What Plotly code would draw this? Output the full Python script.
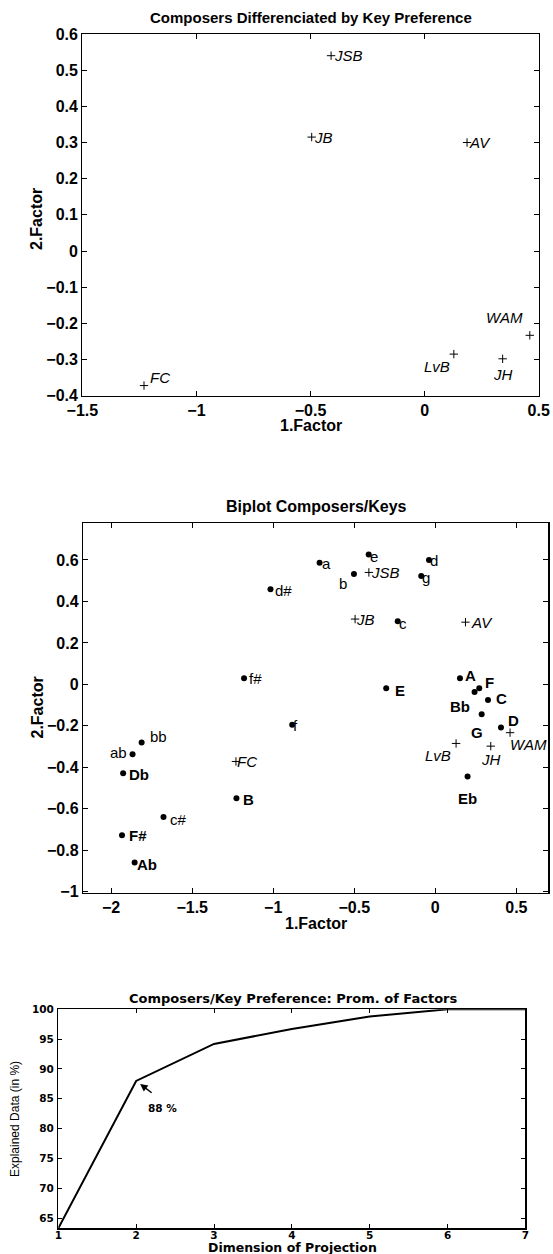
import plotly.graph_objects as go

# ---------------- data ----------------
# Composers (factor 1 / factor 2)
composers = ["JSB", "JB", "AV", "WAM", "LvB", "JH", "FC"]
comp_f1 = [-0.41, -0.495, 0.186, 0.461, 0.128, 0.342, -1.23]
comp_f2 = [0.54, 0.315, 0.30, -0.233, -0.285, -0.298, -0.372]

# Keys (biplot)
keys = ["a", "e", "d", "g", "c", "b", "d#", "f#", "f", "bb", "ab", "c#",
        "A", "F", "Bb", "C", "G", "D", "E", "B", "Db", "Eb", "F#", "Ab"]
key_f1 = [-0.714, -0.411, -0.039, -0.087, -0.232, -0.502, -1.017, -1.180, -0.883, -1.812, -1.868, -1.677,
          0.152, 0.271, 0.242, 0.325, 0.286, 0.405, -0.303, -1.227, -1.926, 0.199, -1.933, -1.855]
key_f2 = [0.587, 0.627, 0.600, 0.523, 0.304, 0.533, 0.459, 0.029, -0.195, -0.280, -0.337, -0.640,
          0.030, -0.019, -0.037, -0.076, -0.144, -0.208, -0.019, -0.549, -0.429, -0.445, -0.728, -0.859]

# Prominence of factors
dims = [1, 2, 3, 4, 5, 6, 7]
explained = [63.3, 88.0, 94.2, 96.7, 98.8, 100.0, 100.0]

# ---------------- label placement styles (anchor, dx px, dy px downward) ----------------
top_lab = {"JSB": ("left", 3, 0), "JB": ("left", 2, 0), "AV": ("left", 2, 0),
           "WAM": ("right", -7, -18), "LvB": ("right", -3.5, 12), "JH": ("center", 0, 16),
           "FC": ("left", 6, -8)}
bi_comp_lab = {"JSB": ("left", 2, 0), "JB": ("left", 1, 0), "AV": ("left", 6, 0),
               "WAM": ("left", 0, 12), "LvB": ("right", -5.5, 12), "JH": ("center", 0, 13),
               "FC": ("left", 1, 0)}
key_lab = {"a": ("left", 2, 1), "e": ("left", 1, 2), "d": ("left", 1, 1), "g": ("left", 1, 2),
           "c": ("left", 1, 2), "b": ("right", -7, 10), "d#": ("left", 5, 1.5), "f#": ("left", 5, 0),
           "f": ("left", 1, 1), "bb": ("left", 8, -6), "ab": ("right", -6, -2), "c#": ("left", 6, 2),
           "A": ("left", 5, -3), "F": ("left", 6, -6), "Bb": ("right", -5, 14), "C": ("left", 8, -2),
           "G": ("center", -5, 18), "D": ("left", 7, -7), "E": ("left", 9, 2), "B": ("left", 7, 1),
           "Db": ("left", 6, 1), "Eb": ("center", 0, 22), "F#": ("left", 7, 0), "Ab": ("left", 2, 2)}

W, H = 553, 1254


def xd(a, b):
    return [a / W, b / W]


def yd(top, bottom):
    return [1 - bottom / H, 1 - top / H]


fig = go.Figure()

cross = dict(symbol="cross-thin", size=6, color="black", line=dict(color="black", width=1))

fig.add_trace(go.Scatter(x=comp_f1, y=comp_f2, mode="markers", marker=cross,
                         xaxis="x", yaxis="y", showlegend=False, hoverinfo="skip"))
fig.add_trace(go.Scatter(x=key_f1, y=key_f2, mode="markers",
                         marker=dict(symbol="circle", size=6, color="black"),
                         xaxis="x2", yaxis="y2", showlegend=False, hoverinfo="skip"))
fig.add_trace(go.Scatter(x=comp_f1, y=comp_f2, mode="markers", marker=cross,
                         xaxis="x2", yaxis="y2", showlegend=False, hoverinfo="skip"))
fig.add_trace(go.Scatter(x=dims, y=explained, mode="lines", line=dict(color="black", width=2),
                         xaxis="x3", yaxis="y3", showlegend=False, hoverinfo="skip"))

tickf = dict(family="Liberation Sans, Arial, sans-serif", size=16, color="black", weight="bold")
tickf3 = dict(family="DejaVu Sans, sans-serif", size=10.5, color="black", weight="bold")
base = dict(showline=True, linecolor="black", linewidth=1.3, mirror="ticks", ticks="inside",
            ticklen=5, tickwidth=1, tickcolor="black", showgrid=False, zeroline=False)

fig.update_layout(
    width=W, height=H, margin=dict(l=0, r=0, t=0, b=0),
    paper_bgcolor="white", plot_bgcolor="white", template="none",
    xaxis=dict(base, domain=xd(82.4, 538.7), range=[-1.5, 0.5], dtick=0.5, tick0=0,
               tickfont=tickf, anchor="y", ticklabelstandoff=0),
    yaxis=dict(base, domain=yd(34, 395.7), range=[-0.4, 0.6], dtick=0.1, tick0=0,
               tickfont=tickf, anchor="x", ticklabelstandoff=0),
    xaxis2=dict(base, domain=xd(83.1, 548.3), range=[-2.173, 0.697], dtick=0.5, tick0=0,
                tickfont=tickf, anchor="y2", ticklabelstandoff=0),
    yaxis2=dict(base, domain=yd(523.3, 892.7), range=[-1.005, 0.777], dtick=0.2, tick0=0,
                tickfont=tickf, anchor="x2", ticklabelstandoff=0),
    xaxis3=dict(base, domain=xd(58.3, 525.4), range=[1, 7], dtick=1, tick0=0, ticklen=4,
                tickfont=tickf3, anchor="y3", ticklabelstandoff=-3),
    yaxis3=dict(base, domain=yd(1009.3, 1228.3), range=[explained[0], 100], dtick=5, tick0=0,
                ticklen=4, tickfont=tickf3, anchor="x3", ticklabelstandoff=1),
)

ann = []
lab_f = dict(family="Liberation Sans, Arial, sans-serif", size=15, color="black")


def add_label(text, x, y, xr, yr, spec, font):
    anchor, dx, dy = spec
    ann.append(dict(text=text, x=x, y=y, xref=xr, yref=yr, showarrow=False,
                    xanchor=anchor, yanchor="middle", xshift=dx, yshift=-dy,
                    borderpad=0, borderwidth=0, font=font))


comp_font = dict(lab_f, style="italic")
for n, x, y in zip(composers, comp_f1, comp_f2):
    add_label(n, x, y, "x", "y", top_lab[n], comp_font)
    add_label(n, x, y, "x2", "y2", bi_comp_lab[n], comp_font)
for k, x, y in zip(keys, key_f1, key_f2):
    f = dict(lab_f, weight="bold") if k[0].isupper() else lab_f
    add_label(k, x, y, "x2", "y2", key_lab[k], f)

title_f = dict(family="Liberation Sans, Arial, sans-serif", size=15, color="black", weight="bold")


def ptext(text, xpx, ypx, font, angle=0):
    ann.append(dict(text=text, x=xpx / W, y=1 - ypx / H, xref="paper", yref="paper",
                    showarrow=False, xanchor="center", yanchor="middle", textangle=angle,
                    font=font))


ptext("Composers Differenciated by Key Preference", 311, 17.5, title_f)
ptext("1.Factor", 310.5, 425.5, dict(title_f, size=16))
ptext("2.Factor", 37, 219, dict(title_f, size=16), -90)

ptext("Biplot Composers/Keys", 316.5, 507, dict(title_f, size=16))
ptext("1.Factor", 316, 923.5, dict(title_f, size=16))
ptext("2.Factor", 37.5, 708, dict(title_f, size=16), -90)

f3 = dict(family="DejaVu Sans, sans-serif", size=13, color="black", weight="bold")
ptext("Composers/Key Preference: Prom. of Factors", 292.5, 998.5, f3)
ptext("Dimension of Projection", 292, 1247.5, dict(f3, size=12.5))
ptext("Explained Data (in %)", 15, 1119,
      dict(family="Liberation Sans Narrow, Liberation Sans, sans-serif", size=12, color="black"), -90)

# 88 % callout
ann.append(dict(text="", x=dims[1], y=explained[1], xref="x3", yref="y3", showarrow=True,
                ax=17, ay=13, arrowhead=2, arrowsize=1, arrowwidth=1.5, arrowcolor="black",
                standoff=5))
ann.append(dict(text="88 %", x=dims[1], y=explained[1], xref="x3", yref="y3", showarrow=False,
                xshift=26.5, yshift=-27, xanchor="center", yanchor="middle",
                font=dict(family="DejaVu Sans, sans-serif", size=10.5, color="black", weight="bold")))

fig.update_layout(annotations=ann)
fig.write_html("out.html", config={"displayModeBar": False, "staticPlot": True},
               post_script="document.body.style.margin='0';document.body.style.padding='0';"
                           "document.body.style.overflow='hidden';")
